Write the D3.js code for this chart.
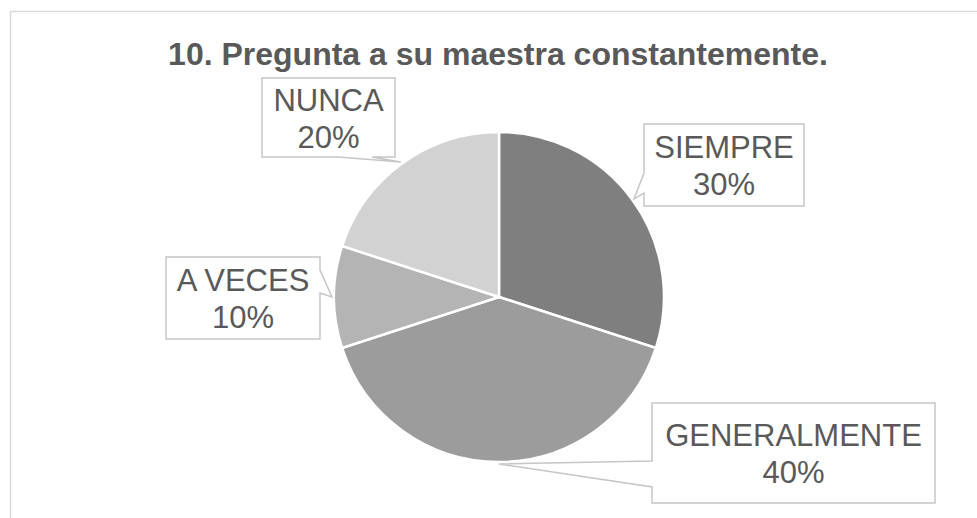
<!DOCTYPE html>
<html>
<head>
<meta charset="utf-8">
<script src="https://cdn.jsdelivr.net/npm/d3@7"></script>
<style>
  body { margin: 0; background: #fff; }
  text { font-family: "Liberation Sans", Arial, sans-serif; fill: #595959; }
</style>
</head>
<body>
<svg id="chart"></svg>
<script>
// Chart data
const title = "10. Pregunta a su maestra constantemente.";
const categories = ["SIEMPRE", "GENERALMENTE", "A VECES", "NUNCA"];
const percents = [30, 40, 10, 20];
const sliceColors = ["#7f7f7f", "#9c9c9c", "#b4b4b4", "#d2d2d2"];

// Callout boxes: [x0, y0, x1, y1], side the pointer leaves from, base of pointer along that side
const boxRects = [[644, 124, 804, 206], [652, 403, 935, 503], [166, 257, 320, 339], [262, 78, 395, 157]];
const boxSides = ["left", "left", "right", "bottom"];
const boxBases = [[173, 193], [461, 487], [270, 293], [338, 372]];

const width = 977, height = 518;
const cx = 499, cy = 297, radius = 165;

const svg = d3.select("#chart").attr("width", width).attr("height", height);

// Outer chart border (runs past the right and bottom edge)
svg.append("rect")
    .attr("x", 10.5).attr("y", 11.5)
    .attr("width", width).attr("height", height)
    .attr("fill", "none")
    .attr("stroke", "#d9d9d9")
    .attr("stroke-width", 1.5);

svg.append("text")
    .attr("x", 498).attr("y", 65)
    .attr("text-anchor", "middle")
    .style("font-size", "32px")
    .style("font-weight", "bold")
    .text(title);

const pie = d3.pie().sort(null).value(d => d.value);
const arcs = pie(categories.map((c, i) => ({ name: c, value: percents[i] })));
const arc = d3.arc().innerRadius(0).outerRadius(radius);

const g = svg.append("g").attr("transform", `translate(${cx},${cy})`);

g.selectAll("path.slice")
    .data(arcs)
    .enter().append("path")
    .attr("class", "slice")
    .attr("d", arc)
    .attr("fill", (d, i) => sliceColors[i])
    .attr("stroke", "#fff")
    .attr("stroke-width", 2.5);

// Callout outline with pointer
function calloutPath(r, side, base, tip) {
    const [x0, y0, x1, y1] = r;
    const p = d3.path();
    p.moveTo(x0, y0);
    p.lineTo(x1, y0);
    if (side == "right") { p.lineTo(x1, base[0]); p.lineTo(tip[0], tip[1]); p.lineTo(x1, base[1]); }
    p.lineTo(x1, y1);
    if (side == "bottom") { p.lineTo(base[1], y1); p.lineTo(tip[0], tip[1]); p.lineTo(base[0], y1); }
    p.lineTo(x0, y1);
    if (side == "left") { p.lineTo(x0, base[1]); p.lineTo(tip[0], tip[1]); p.lineTo(x0, base[0]); }
    p.closePath();
    return p.toString();
}

arcs.forEach((d, i) => {
    const mid = (d.startAngle + d.endAngle) / 2;
    const tip = [cx + (radius + 2) * Math.sin(mid), cy - (radius + 2) * Math.cos(mid)];
    const r = boxRects[i];

    svg.append("path")
        .attr("d", calloutPath(r, boxSides[i], boxBases[i], tip))
        .attr("fill", "#fff")
        .attr("stroke", "#c6c6c6")
        .attr("stroke-width", 1.5);

    const tx = (r[0] + r[2]) / 2;
    const ty = (r[1] + r[3]) / 2;
    const lbl = svg.append("text")
        .attr("x", tx)
        .attr("text-anchor", "middle")
        .style("font-size", "31px");
    lbl.append("tspan").attr("x", tx).attr("y", ty - 7).text(d.data.name);
    lbl.append("tspan").attr("x", tx).attr("y", ty + 30).text(d.data.value + "%");
});
</script>
</body>
</html>
